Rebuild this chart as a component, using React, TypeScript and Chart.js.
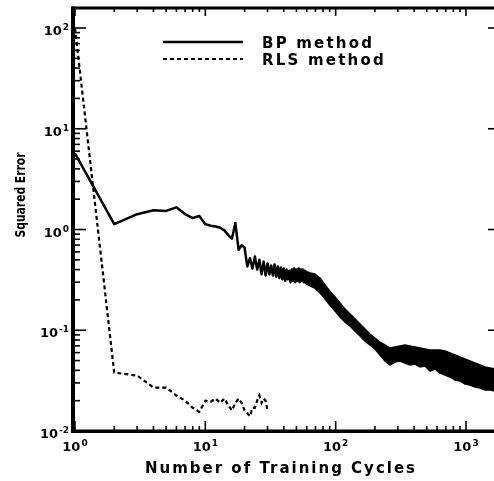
import React, { useEffect, useRef } from 'react';
import { Chart, registerables } from 'chart.js';

Chart.register(...registerables);

// ---- data ----
const bpCycles = [1, 2, 3, 4, 5, 6, 7, 8, 9, 10, 11, 12, 13, 14, 15, 16, 17, 18, 19, 20, 21, 22, 23, 24, 25, 26, 27, 28, 29, 30, 31, 32, 33, 34, 35, 36, 37, 38, 39, 40, 41, 42, 43, 44, 45, 46, 47, 48, 49, 50, 51, 52, 53, 54, 55, 56, 57, 58, 59, 60];
const bpError = [5.7, 1.13, 1.42, 1.55, 1.53, 1.66, 1.42, 1.3, 1.36, 1.13, 1.09, 1.07, 1.04, 0.98, 0.88, 0.81, 1.16, 0.63, 0.7, 0.66, 0.43, 0.52, 0.41, 0.54, 0.4, 0.5, 0.36, 0.48, 0.35, 0.46, 0.36, 0.44, 0.35, 0.45, 0.34, 0.43, 0.33, 0.42, 0.32, 0.41, 0.31, 0.4, 0.32, 0.39, 0.3, 0.4, 0.31, 0.41, 0.3, 0.4, 0.31, 0.41, 0.3, 0.4, 0.31, 0.4, 0.3, 0.39, 0.3, 0.38];

// noisy BP band (upper / lower envelope of the oscillating error)
const bandCycles = [58, 64, 69, 76, 83, 90, 99, 108, 118, 129, 141, 154, 168, 183, 200, 219, 239, 261, 285, 312, 340, 372, 406, 444, 485, 530, 578, 632, 690, 754, 824, 899, 983, 1074, 1173, 1281, 1399, 1529, 1670, 1824];
const bandUpper = [0.387, 0.37, 0.362, 0.33, 0.281, 0.245, 0.214, 0.187, 0.162, 0.145, 0.129, 0.115, 0.1028, 0.0917, 0.0837, 0.0764, 0.0714, 0.0666, 0.0682, 0.0698, 0.0714, 0.0698, 0.0682, 0.0666, 0.0651, 0.0637, 0.0637, 0.0637, 0.0622, 0.0594, 0.0568, 0.0543, 0.0518, 0.0495, 0.0473, 0.0452, 0.0432, 0.0422, 0.0412, 0.0403];
const bandLower = [0.294, 0.275, 0.263, 0.234, 0.204, 0.178, 0.155, 0.135, 0.12, 0.11, 0.098, 0.0876, 0.078, 0.0714, 0.0651, 0.0568, 0.0495, 0.0452, 0.0484, 0.0495, 0.0473, 0.0452, 0.0462, 0.0432, 0.0442, 0.0394, 0.0412, 0.0376, 0.036, 0.0344, 0.0321, 0.0314, 0.0293, 0.0286, 0.0273, 0.0267, 0.0255, 0.0255, 0.0249, 0.0244];

const rlsCycles = [1, 2, 3, 4, 5, 6, 7, 8, 9, 10, 11, 12, 13, 14, 15, 16, 17, 18, 19, 20, 21, 22, 23, 24, 25, 26, 27, 28, 29, 30];
const rlsError = [100, 0.038, 0.0355, 0.027, 0.027, 0.0225, 0.02, 0.017, 0.0155, 0.02, 0.0195, 0.021, 0.019, 0.021, 0.018, 0.016, 0.019, 0.021, 0.019, 0.016, 0.015, 0.014, 0.017, 0.017, 0.02, 0.0225, 0.019, 0.021, 0.02, 0.016];

const xTickValues = [1, 10, 100, 1000];
const xTickExponents = ['0', '1', '2', '3'];
const yTickValues = [0.01, 0.1, 1, 10, 100];
const yTickExponents = ['-2', '-1', '0', '1', '2'];

const xTitle = 'Number of Training Cycles';
const yTitle = 'Squared Error';
const legendLabels = ['BP method', 'RLS method'];

const FONT = '"DejaVu Sans", "Liberation Sans", Arial, sans-serif';

const toPoints = (xs: number[], ys: number[]) => xs.map((x, i) => ({ x, y: ys[i] }));

const decorPlugin = {
  id: 'decor',
  afterDatasetsDraw(chart: any) {
    const { ctx, chartArea: a, scales } = chart;
    const x = scales.x;
    const y = scales.y;
    ctx.save();
    ctx.setLineDash([]);
    ctx.fillStyle = '#000';
    ctx.strokeStyle = '#000';

    // frame
    ctx.fillRect(a.left - 4, a.top - 1.5, a.right - a.left + 6, 3);
    ctx.fillRect(a.left - 4, a.top - 1.5, 4, a.bottom - a.top + 3);
    ctx.fillRect(a.left - 4, a.bottom - 1.5, a.right - a.left + 6, 3.5);
    ctx.fillRect(a.right, a.top - 1.5, 2.5, a.bottom - a.top + 3);

    const line = (x1: number, y1: number, x2: number, y2: number) => {
      ctx.beginPath();
      ctx.moveTo(x1, y1);
      ctx.lineTo(x2, y2);
      ctx.stroke();
    };

    ctx.lineWidth = 1.6;
    for (let e = 0; e <= 4; e++) {
      for (let m = 1; m <= 9; m++) {
        const v = m * Math.pow(10, e);
        if (v > x.max) break;
        const px = x.getPixelForValue(v);
        const major = m === 1;
        line(px, a.bottom, px, a.bottom - (major ? 10 : 5));
        line(px, a.top, px, a.top + (major ? 8 : 4));
      }
    }
    for (let e = -2; e <= 2; e++) {
      for (let m = 1; m <= 9; m++) {
        const v = m * Math.pow(10, e);
        if (v > y.max) break;
        const py = y.getPixelForValue(v);
        const major = m === 1;
        line(a.left, py, a.left + (major ? 11 : 5), py);
        if (major) line(a.right, py, a.right - 9, py);
      }
    }

    // tick labels
    const baseFont = `bold 13px ${FONT}`;
    const supFont = `bold 9px ${FONT}`;
    ctx.textAlign = 'left';
    ctx.textBaseline = 'alphabetic';
    ctx.letterSpacing = '0px';
    const measure = (t: string, f: string) => {
      ctx.font = f;
      return ctx.measureText(t).width;
    };
    yTickValues.forEach((v, i) => {
      const py = y.getPixelForValue(v);
      const exp = yTickExponents[i];
      const w2 = measure(exp, supFont);
      const w1 = measure('10', baseFont);
      const right = a.left - 6;
      ctx.font = baseFont;
      ctx.fillText('10', right - w2 - w1 - 1, py + 7);
      ctx.font = supFont;
      ctx.fillText(exp, right - w2, py + 2);
    });
    xTickValues.forEach((v, i) => {
      const px = x.getPixelForValue(v);
      const exp = xTickExponents[i];
      const w2 = measure(exp, supFont);
      const w1 = measure('10', baseFont);
      const start = px - (w1 + w2 + 1) / 2;
      ctx.font = baseFont;
      ctx.fillText('10', start, a.bottom + 20);
      ctx.font = supFont;
      ctx.fillText(exp, start + w1 + 1, a.bottom + 15);
    });

    // x title
    ctx.font = `bold 15px ${FONT}`;
    ctx.letterSpacing = '2px';
    ctx.textAlign = 'center';
    ctx.fillText(xTitle, 281, 473);

    // y title (condensed, rotated)
    ctx.save();
    ctx.letterSpacing = '0px';
    ctx.font = `bold 14px "DejaVu Sans Condensed", ${FONT}`;
    const wy = ctx.measureText(yTitle).width;
    ctx.translate(25, 195);
    ctx.rotate(-Math.PI / 2);
    ctx.scale(85 / wy, 1);
    ctx.textAlign = 'center';
    ctx.fillText(yTitle, 0, 0);
    ctx.restore();

    // legend
    const ds = chart.data.datasets;
    const legendRows = [
      { ds: ds[0], text: legendLabels[0], y: 42 },
      { ds: ds[3], text: legendLabels[1], y: 59 },
    ];
    legendRows.forEach((r) => {
      ctx.lineWidth = r.ds.borderWidth;
      ctx.setLineDash(r.ds.borderDash || []);
      line(163, r.y, 243, r.y);
      ctx.setLineDash([]);
      ctx.font = `bold 15px ${FONT}`;
      ctx.letterSpacing = '2.2px';
      ctx.textAlign = 'left';
      ctx.fillText(r.text, 262, r.y + 6);
    });
    ctx.letterSpacing = '0px';
    ctx.restore();
  },
};

export default function App() {
  const canvasRef = useRef<HTMLCanvasElement | null>(null);

  useEffect(() => {
    const canvas = canvasRef.current;
    if (!canvas) return;
    const chart = new Chart(canvas, {
      type: 'line',
      data: {
        datasets: [
          {
            label: legendLabels[0],
            data: toPoints(bpCycles, bpError),
            borderColor: '#000',
            borderWidth: 2.5,
            pointRadius: 0,
            fill: false,
            borderJoinStyle: 'round',
          },
          {
            label: 'BP upper',
            data: toPoints(bandCycles, bandUpper),
            borderColor: '#000',
            borderWidth: 1.5,
            pointRadius: 0,
            fill: false,
          },
          {
            label: 'BP lower',
            data: toPoints(bandCycles, bandLower),
            borderColor: '#000',
            backgroundColor: '#000',
            borderWidth: 1.5,
            pointRadius: 0,
            fill: '-1',
          },
          {
            label: legendLabels[1],
            data: toPoints(rlsCycles, rlsError),
            borderColor: '#000',
            borderWidth: 2.2,
            borderDash: [4, 3],
            pointRadius: 0,
            fill: false,
          },
        ],
      },
      options: {
        animation: false,
        responsive: false,
        devicePixelRatio: 1,
        layout: { padding: { left: 0, top: 8, right: 7, bottom: 0 } },
        plugins: { legend: { display: false }, tooltip: { enabled: false } },
        scales: {
          x: {
            type: 'logarithmic',
            min: 1,
            max: 1730,
            grid: { display: false },
            border: { display: false },
            ticks: { display: false },
            afterFit: (s: any) => { s.height = 50; },
          },
          y: {
            type: 'logarithmic',
            min: 0.01,
            max: 158,
            grid: { display: false },
            border: { display: false },
            ticks: { display: false },
            afterFit: (s: any) => { s.width = 75; },
          },
        },
      },
      plugins: [decorPlugin],
    } as any);
    return () => chart.destroy();
  }, []);

  return (
    <div style={{ position: 'absolute', left: 0, top: 0, width: 494, height: 481, overflow: 'hidden', background: '#fff' }}>
      <canvas ref={canvasRef} width={504} height={481} style={{ display: 'block' }} />
    </div>
  );
}
